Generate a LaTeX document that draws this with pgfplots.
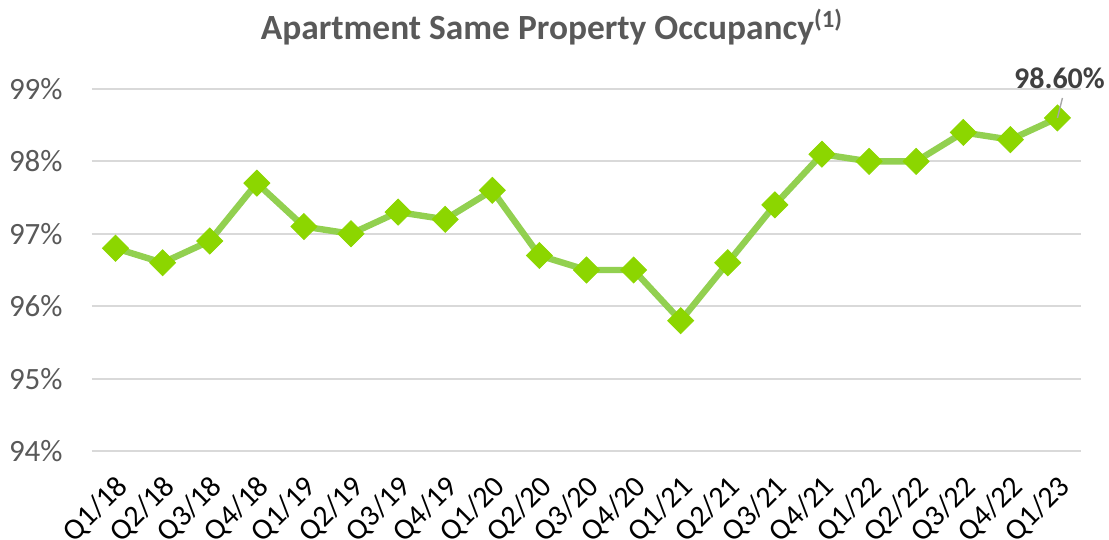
\documentclass[border=0pt]{standalone}
\usepackage{fontspec}
\setmainfont{Carlito}
\usepackage{pgfplots}
\pgfplotsset{compat=1.18}
\definecolor{linegreen}{HTML}{92D050}
\definecolor{markgreen}{HTML}{8CD600}
\definecolor{gridgray}{HTML}{D9D9D9}
\definecolor{labgray}{HTML}{595959}
\definecolor{darklab}{HTML}{404040}
\begin{document}
\begin{tikzpicture}
\begin{axis}[
  scale only axis, width=494.5pt, height=181pt,
  xmin=-0.5, xmax=20.5, ymin=94, ymax=99,
  axis line style={draw=none},
  major tick length=0pt,
  ymajorgrids, grid style={gridgray, line width=1pt},
  xtick={0,...,20},
  xticklabels={Q1/18,Q2/18,Q3/18,Q4/18,Q1/19,Q2/19,Q3/19,Q4/19,Q1/20,Q2/20,Q3/20,Q4/20,Q1/21,Q2/21,Q3/21,Q4/21,Q1/22,Q2/22,Q3/22,Q4/22,Q1/23},
  xticklabel style={anchor=north east, inner sep=0pt, xshift=-0.5pt, yshift=-11pt, rotate=45, font=\fontsize{15}{18}\selectfont, text=black},
  ytick={94,95,96,97,98,99},
  yticklabel={\pgfmathprintnumber{\tick}\%},
  /pgf/number format/assume math mode=true,
  yticklabel style={text=labgray, inner sep=0pt, xshift=-14.5pt, font=\fontsize{15.5}{18}\selectfont},
  clip=false,
]
\addplot[linegreen, line width=3.2pt, mark=square*, mark size=4.6pt,
  mark options={solid, draw=markgreen, fill=markgreen, rotate=45, rounded corners=1.5pt, line width=0.4pt}]
  coordinates {
  (0,96.8) (1,96.6) (2,96.9) (3,97.7) (4,97.1) (5,97.0) (6,97.3) (7,97.2)
  (8,97.6) (9,96.7) (10,96.5) (11,96.5) (12,95.8) (13,96.6) (14,97.4)
  (15,98.1) (16,98.0) (17,98.0) (18,98.4) (19,98.3) (20,98.6)
  };
\coordinate (bl) at (rel axis cs:0,0);
\coordinate (tr) at (rel axis cs:1,1);
\coordinate (lastpt) at (axis cs:20,98.6);
\end{axis}
\draw[gray!70, line width=0.7pt] (lastpt) -- ++(2.5pt,10pt);
\node[font=\bfseries\fontsize{15}{18}\selectfont, text=darklab] at ([xshift=1pt, yshift=20pt]lastpt) {98.60\%};
\node[font=\bfseries\fontsize{17.7}{22}\selectfont, text=labgray] at ([xshift=230pt, yshift=31pt]bl |- tr) {Apartment Same Property Occupancy\textsuperscript{(1)}};
\pgfresetboundingbox
\path ([xshift=-46pt,yshift=-44.5pt]bl) rectangle ([xshift=14pt,yshift=44.5pt]tr);
\end{tikzpicture}
\end{document}
